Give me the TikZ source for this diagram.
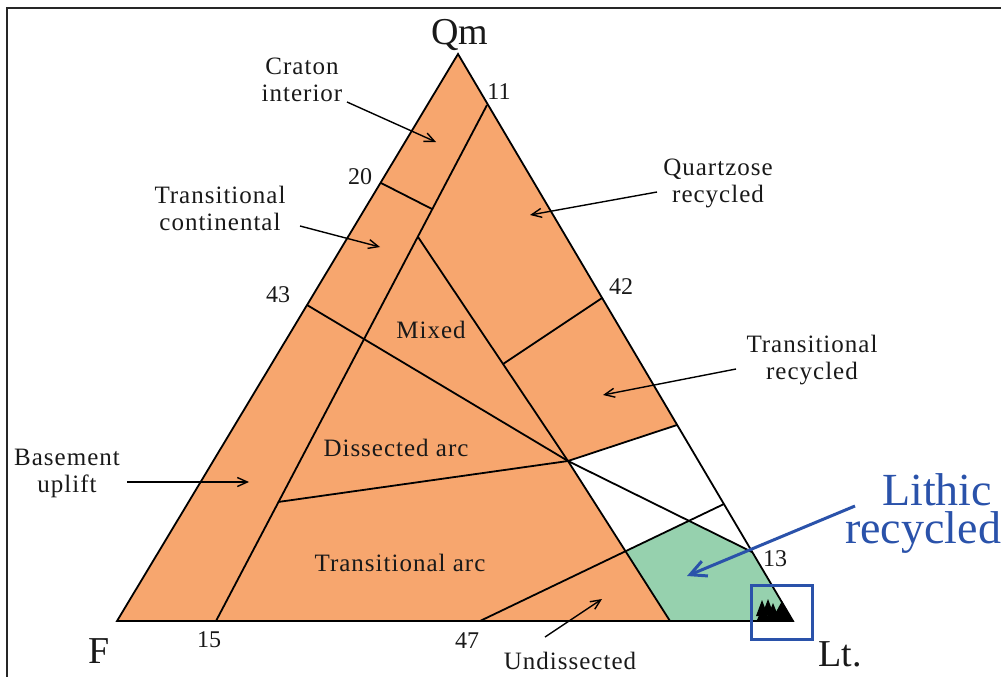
\documentclass[tikz,border=0pt]{standalone}
\usepackage{fontspec}
\setmainfont{Liberation Serif}
\newfontfamily\labfont[LetterSpace=4]{Liberation Serif}
\usetikzlibrary{arrows.meta}
\definecolor{orng}{RGB}{247,166,110}
\definecolor{grn}{RGB}{150,209,174}
\definecolor{blu}{RGB}{42,82,170}
\definecolor{ink}{RGB}{25,25,25}
\begin{document}
\begin{tikzpicture}[x=1pt,y=-1pt,
  edge/.style={draw=black,line width=1.8pt,line join=miter},
  lab/.style={font=\labfont\fontsize{25}{27}\selectfont,align=center,inner sep=0pt,text=ink},
  num/.style={font=\fontsize{24}{26}\selectfont,inner sep=0pt,text=ink},
  corner/.style={font=\fontsize{38}{40}\selectfont,inner sep=0pt,text=ink},
  ptr/.style={draw=black,line width=1.4pt,-{Straight Barb[length=10pt,width=9pt,line width=1.4pt]}},
  bptr/.style={draw=blu,line width=3pt,-{Straight Barb[length=16pt,width=16pt,line width=3pt]}},
  blab/.style={font=\fontsize{46}{38}\selectfont,inner sep=0pt,text=blu,align=left},
  mk/.style={fill=black},
]
\useasboundingbox (0,0) rectangle (1001,677);
\draw[line width=2.5pt,black!85] (1001,8) -- (7,8) -- (7,677);

% vertices
\coordinate (Qm) at (458,54);
\coordinate (F) at (117,621);
\coordinate (Lt) at (793,621);
\coordinate (p11) at (487,105);
\coordinate (p15) at (216,621);
\coordinate (p20) at (381,183);
\coordinate (q20) at (432,209);
\coordinate (m) at (418,237);
\coordinate (p43) at (307,305);
\coordinate (C) at (568,461);
\coordinate (p13) at (752,552);
\coordinate (p42) at (602,298);
\coordinate (q42) at (503,364);
\coordinate (r) at (677,425);
\coordinate (d1) at (278,502);
\coordinate (b1) at (670,621);
\coordinate (p47) at (480,621);
\coordinate (s) at (724,504);
\coordinate (g1) at (625.5,551);
\coordinate (g2) at (689,521);

% fills
\fill[orng] (Qm) -- (F) -- (Lt) -- cycle;
\fill[white] (C) -- (r) -- (p13) -- (g2) -- (g1) -- cycle;
\fill[grn] (g1) -- (g2) -- (p13) -- (Lt) -- (b1) -- cycle;

% lines
\draw[edge] (Qm) -- (F) -- (Lt) -- cycle;
\draw[edge] (p11) -- (p15);
\draw[edge] (p20) -- (q20);
\draw[edge] (p43) -- (C) -- (p13);
\draw[edge] (m) -- (C) -- (b1);
\draw[edge] (p42) -- (q42);
\draw[edge] (C) -- (r);
\draw[edge] (d1) -- (C);
\draw[edge] (p47) -- (s);

% data markers
\fill[mk] (762,600) -- (756,616) -- (768,616) -- cycle;
\fill[mk] (768,599) -- (762,615) -- (774,615) -- cycle;
\fill[mk] (773,603) -- (767,618) -- (779,618) -- cycle;
\fill[mk] (763,606) -- (757,620) -- (769,620) -- cycle;
\fill[mk] (782,601) -- (771,621) -- (793,621) -- cycle;
\fill[mk] (760,616) rectangle (786,621);

% highlight box
\node[draw=blu,line width=3pt,minimum width=61pt,minimum height=54pt,inner sep=0pt] (hl) at (781.5,612) {};

% corner labels
\node[corner,anchor=base] (tQm) at (460,45) {Qm};
\node[corner,anchor=base] (tF) at (99,663) {F};
\node[corner,anchor=base] (tLt) at (840,666) {Lt.};

% numbers
\node[num] (n11) at (499,92) {11};
\node[num] (n20) at (360,177) {20};
\node[num] (n43) at (278,295) {43};
\node[num] (n42) at (621,287) {42};
\node[num] (n13) at (775,559) {13};
\node[num] (n15) at (209,640) {15};
\node[num] (n47) at (467,641) {47};

% region labels
\node[lab] (craton) at (302,80) {Craton\\interior};
\node[lab] (tcont) at (220,208) {Transitional\\continental};
\node[lab] (qrec) at (718,183) {Quartzose\\recycled};
\node[lab] (trec) at (812,360) {Transitional\\recycled};
\node[lab] (base) at (67,473) {Basement\\uplift};
\node[lab] (mixed) at (431,330) {Mixed};
\node[lab] (dis) at (396,448) {Dissected arc};
\node[lab] (tarc) at (400,563) {Transitional arc};
\node[lab] (und) at (570,661) {Undissected};

\node[blab,anchor=north west] (lith) at (845,473) {\hspace*{37pt}Lithic\\recycled};

% pointers
\coordinate (a1s) at (347,102); \coordinate (a1e) at (436,142);
\coordinate (a2s) at (300,226); \coordinate (a2e) at (380,247);
\coordinate (a3s) at (657,192); \coordinate (a3e) at (530,215);
\coordinate (a4s) at (736,369); \coordinate (a4e) at (603,395);
\coordinate (a5s) at (127,482); \coordinate (a5e) at (249,482);
\coordinate (a6s) at (545,637); \coordinate (a6e) at (602,599);
\coordinate (a7s) at (855,506); \coordinate (a7e) at (687,576);
\draw[ptr] (a1s) -- (a1e);
\draw[ptr] (a2s) -- (a2e);
\draw[ptr] (a3s) -- (a3e);
\draw[ptr] (a4s) -- (a4e);
\draw[ptr] (a5s) -- (a5e);
\draw[ptr] (a6s) -- (a6e);
\draw[bptr] (a7s) -- (a7e);
\end{tikzpicture}
\end{document}
